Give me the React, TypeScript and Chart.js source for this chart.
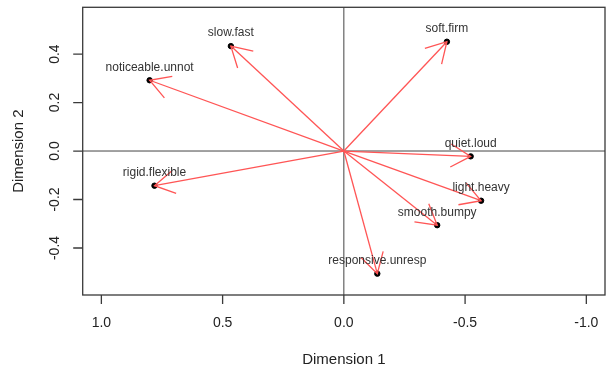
import React, { useEffect, useRef } from "react";
import { Chart, registerables } from "chart.js";

Chart.register(...registerables);

const labels = [
  "slow.fast",
  "noticeable.unnot",
  "rigid.flexible",
  "soft.firm",
  "quiet.loud",
  "light.heavy",
  "smooth.bumpy",
  "responsive.unresp",
];
const dim1 = [0.466, 0.801, 0.781, -0.425, -0.523, -0.566, -0.385, -0.138];
const dim2 = [0.433, 0.292, -0.143, 0.451, -0.022, -0.205, -0.306, -0.506];

const xTicks = [1.0, 0.5, 0.0, -0.5, -1.0];
const xTickLabels = ["1.0", "0.5", "0.0", "-0.5", "-1.0"];
const yTicks = [-0.4, -0.2, 0.0, 0.2, 0.4];
const yTickLabels = ["-0.4", "-0.2", "0.0", "0.2", "0.4"];

const xTitle = "Dimension 1";
const yTitle = "Dimension 2";

const FONT = '"Liberation Sans", Arial, Helvetica, sans-serif';
const RED = "#ff5555";
const AXIS = "#3a3a3a";

const decorPlugin = {
  id: "decor",
  beforeDatasetsDraw(chart: any) {
    const { ctx, chartArea: a, scales } = chart;
    const x = scales.x;
    const y = scales.y;
    ctx.save();
    ctx.strokeStyle = "#444";
    ctx.lineWidth = 1;
    const x0 = x.getPixelForValue(0);
    const y0 = y.getPixelForValue(0);
    ctx.beginPath();
    ctx.moveTo(x0, a.top);
    ctx.lineTo(x0, a.bottom);
    ctx.moveTo(a.left, y0);
    ctx.lineTo(a.right, y0);
    ctx.stroke();
    ctx.restore();
  },
  afterDatasetsDraw(chart: any) {
    const { ctx, chartArea: a, scales } = chart;
    const x = scales.x;
    const y = scales.y;
    ctx.save();
    const ox = x.getPixelForValue(0);
    const oy = y.getPixelForValue(0);
    ctx.strokeStyle = RED;
    ctx.lineWidth = 1.3;
    const len = 23;
    const ang = (30 * Math.PI) / 180;
    for (let i = 0; i < labels.length; i++) {
      const px = x.getPixelForValue(dim1[i]);
      const py = y.getPixelForValue(dim2[i]);
      const th = Math.atan2(py - oy, px - ox);
      ctx.beginPath();
      ctx.moveTo(px - len * Math.cos(th - ang), py - len * Math.sin(th - ang));
      ctx.lineTo(px, py);
      ctx.lineTo(px - len * Math.cos(th + ang), py - len * Math.sin(th + ang));
      ctx.stroke();
    }
    ctx.fillStyle = "#333";
    ctx.font = `12px ${FONT}`;
    ctx.textAlign = "center";
    ctx.textBaseline = "middle";
    for (let i = 0; i < labels.length; i++) {
      const px = x.getPixelForValue(dim1[i]);
      const py = y.getPixelForValue(dim2[i]);
      ctx.fillText(labels[i], px, py - 13);
    }
    ctx.strokeStyle = AXIS;
    ctx.lineWidth = 1.3;
    ctx.strokeRect(a.left, a.top, a.right - a.left, a.bottom - a.top);
    ctx.beginPath();
    const xs = xTicks.map((v) => x.getPixelForValue(v));
    xs.forEach((p) => {
      ctx.moveTo(p, a.bottom);
      ctx.lineTo(p, a.bottom + 9);
    });
    const ys = yTicks.map((v) => y.getPixelForValue(v));
    ys.forEach((p) => {
      ctx.moveTo(a.left, p);
      ctx.lineTo(a.left - 9.5, p);
    });
    ctx.stroke();
    ctx.fillStyle = "#222";
    ctx.font = `14px ${FONT}`;
    ctx.textAlign = "center";
    ctx.textBaseline = "middle";
    xs.forEach((p, i) => ctx.fillText(xTickLabels[i], p, 323));
    ys.forEach((p, i) => {
      ctx.save();
      ctx.translate(55, p);
      ctx.rotate(-Math.PI / 2);
      ctx.fillText(yTickLabels[i], 0, 0);
      ctx.restore();
    });
    ctx.font = `15px ${FONT}`;
    ctx.fillText(xTitle, (a.left + a.right) / 2, 360);
    ctx.save();
    ctx.translate(18.5, (a.top + a.bottom) / 2);
    ctx.rotate(-Math.PI / 2);
    ctx.fillText(yTitle, 0, 0);
    ctx.restore();
    ctx.restore();
  },
};

export default function App() {
  const ref = useRef<HTMLCanvasElement | null>(null);
  useEffect(() => {
    if (!ref.current) return;
    const arrowSets = labels.map((l, i) => ({
      type: "line" as const,
      label: l,
      data: [
        { x: 0, y: 0 },
        { x: dim1[i], y: dim2[i] },
      ],
      borderColor: RED,
      borderWidth: 1.3,
      pointRadius: 0,
      showLine: true,
      fill: false,
      order: 0,
    }));
    const chart = new Chart(ref.current, {
      type: "scatter",
      data: {
        datasets: [
          ...arrowSets,
          {
            type: "scatter" as const,
            label: "points",
            data: dim1.map((v, i) => ({ x: v, y: dim2[i] })),
            backgroundColor: "#000",
            borderColor: "#000",
            pointRadius: 2.7,
            order: 1,
          },
        ] as any,
      },
      options: {
        animation: false,
        responsive: false,
        maintainAspectRatio: false,
        layout: { padding: { left: 82.7, right: 3.3, top: 7.3, bottom: 74 } },
        plugins: { legend: { display: false }, tooltip: { enabled: false } },
        scales: {
          x: { type: "linear", min: -1.077, max: 1.077, reverse: true, display: false },
          y: { type: "linear", min: -0.594, max: 0.593, display: false },
        },
      },
      plugins: [decorPlugin],
    });
    return () => chart.destroy();
  }, []);
  return (
    <div style={{ position: "fixed", left: 0, top: 0, width: 610, height: 369, background: "#fff" }}>
      <canvas ref={ref} width={610} height={369} />
    </div>
  );
}
